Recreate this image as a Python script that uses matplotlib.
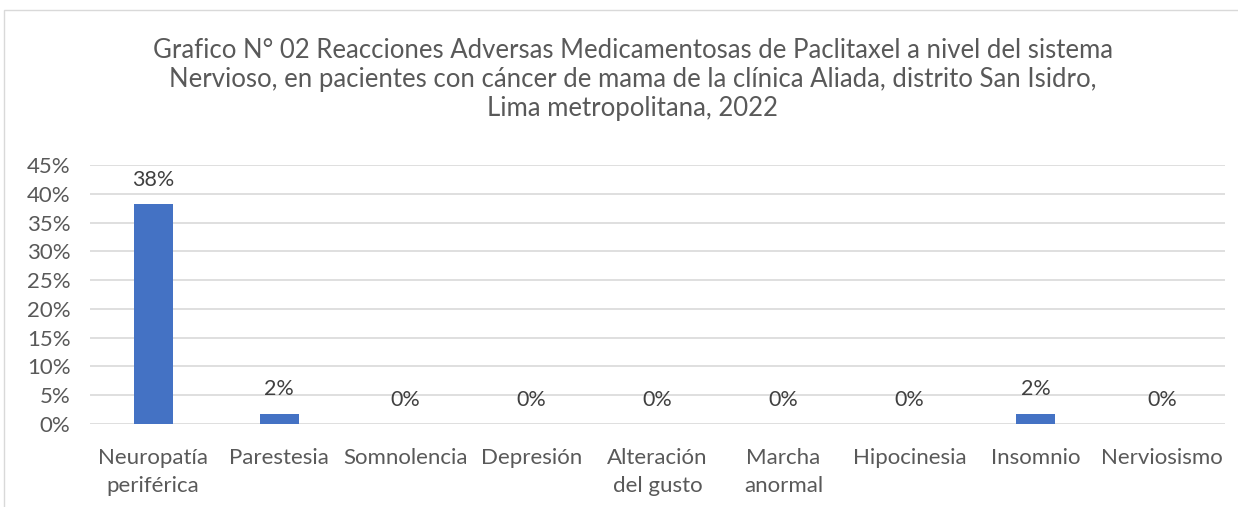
import matplotlib.pyplot as plt
from matplotlib.patches import Rectangle
from matplotlib.ticker import PercentFormatter, MultipleLocator

plt.rcParams['font.family'] = ['Lato', 'DejaVu Sans']

categorias = ['Neuropatía\nperiférica', 'Parestesia', 'Somnolencia', 'Depresión',
              'Alteración\ndel gusto', 'Marcha\nanormal', 'Hipocinesia', 'Insomnio', 'Nerviosismo']
valores = [0.382, 0.018, 0, 0, 0, 0, 0, 0.018, 0]
etiquetas = ['38%', '2%', '0%', '0%', '0%', '0%', '0%', '2%', '0%']

titulo = ('Grafico N° 02 Reacciones Adversas Medicamentosas de Paclitaxel a nivel del sistema\n'
          'Nervioso, en pacientes con cáncer de mama de la clínica Aliada, distrito San Isidro,\n'
          'Lima metropolitana, 2022')

gris = '#595959'
fig = plt.figure(figsize=(12.38, 5.07), dpi=100)
ax = fig.add_axes([0.0727, 0.1637, 0.9168, 0.5109])

x = range(len(categorias))
ax.bar(x, valores, width=0.31, color='#4472C4', zorder=3)
for i, (v, t) in enumerate(zip(valores, etiquetas)):
    ax.annotate(t, (i, v), xytext=(0, 17.5), textcoords='offset points',
                ha='center', va='center', fontsize=15.5, color='#404040')

ax.set_ylim(0, 0.45)
ax.set_xlim(-0.5, len(categorias) - 0.5)
ax.yaxis.set_major_locator(MultipleLocator(0.05))
ax.yaxis.set_major_formatter(PercentFormatter(1.0, decimals=0))
ax.grid(axis='y', color='#D9D9D9', linewidth=1.2, zorder=0)
for s in ax.spines.values():
    s.set_visible(False)
ax.tick_params(length=0, labelsize=16, colors=gris)
ax.tick_params(axis='y', pad=14)
ax.set_xticks(list(x))
ax.set_xticklabels(categorias, linespacing=1.55)
ax.tick_params(axis='x', pad=17)

fig.text(0.511, 0.925, titulo, ha='center', va='top', fontsize=18.5, color=gris, linespacing=1.2)

fig.patches.append(Rectangle((3.5 / 1238, -0.1), 1.2, 1 - 9.5 / 507 + 0.1, transform=fig.transFigure,
                             fill=False, edgecolor='#D9D9D9', linewidth=1))

fig.savefig('out.png', dpi=100)
